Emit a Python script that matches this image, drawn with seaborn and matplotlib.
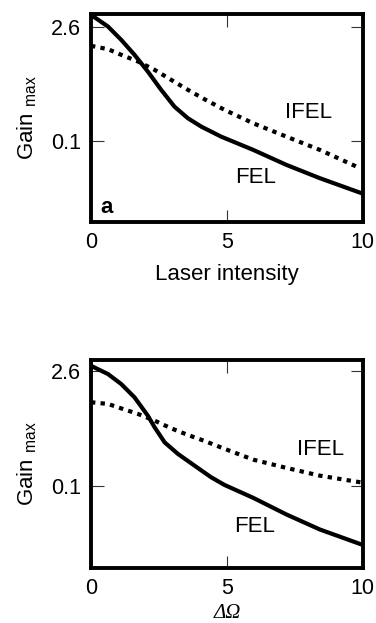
import numpy as np
import pandas as pd
import matplotlib
matplotlib.use("Agg")
import matplotlib.pyplot as plt
import seaborn as sns

# ---- data ----
x_top_fel = [0, 0.625, 1.11, 1.6, 2.09, 2.58, 3.07, 3.56, 4.06, 4.79, 5.97, 7.19, 8.42, 9.95, 10]
y_top_fel = [3.63, 2.60, 1.78, 1.16, 0.719, 0.427, 0.264, 0.190, 0.149, 0.112, 0.0767, 0.050, 0.0342, 0.0223, 0.0220]
x_top_ifel = [0, 0.63, 1.11, 1.73, 2.34, 2.95, 3.56, 4.17, 4.91, 5.97, 7.19, 8.42, 9.71, 9.85]
y_top_ifel = [1.50, 1.36, 1.16, 0.957, 0.755, 0.567, 0.427, 0.327, 0.241, 0.164, 0.112, 0.0767, 0.0486, 0.046]

x_bot_fel = [0, 0.625, 1.11, 1.6, 2.09, 2.34, 2.71, 3.2, 3.81, 4.42, 4.91, 5.97, 7.19, 8.42, 9.95, 10]
y_bot_fel = [2.99, 2.37, 1.79, 1.23, 0.733, 0.528, 0.345, 0.249, 0.179, 0.129, 0.104, 0.0722, 0.0452, 0.0296, 0.0194, 0.0191]
x_bot_ifel = [0, 0.625, 1.11, 1.73, 2.34, 2.95, 3.56, 4.17, 4.91, 5.97, 7.19, 8.42, 9.84, 10]
y_bot_ifel = [1.07, 1.02, 0.900, 0.769, 0.637, 0.513, 0.426, 0.360, 0.288, 0.212, 0.168, 0.135, 0.113, 0.111]

x_ticks = [0, 5, 10]
x_tick_labels = ["0", "5", "10"]
y_ticks = [0.1, 2.6]
y_tick_labels = ["0.1", "2.6"]

sns.set_style("ticks")
plt.rcParams['font.family'] = ['Liberation Sans', 'DejaVu Sans']
plt.rcParams['mathtext.fontset'] = 'custom'
plt.rcParams['mathtext.rm'] = 'Liberation Sans'
plt.rcParams['mathtext.it'] = 'Liberation Sans:italic'
for k in ['text.color', 'axes.labelcolor', 'xtick.color', 'ytick.color',
          'xtick.labelcolor', 'ytick.labelcolor', 'axes.edgecolor']:
    plt.rcParams[k] = 'black'

fig = plt.figure(figsize=(3.76, 6.23), dpi=100)
ax1 = fig.add_axes([0.242, 0.6437, 0.723, 0.334])
ax2 = fig.add_axes([0.242, 0.0883, 0.723, 0.334])

panels = [
    (ax1, x_top_fel, y_top_fel, x_top_ifel, y_top_ifel, (0.0098, 3.73)),
    (ax2, x_bot_fel, y_bot_fel, x_bot_ifel, y_bot_ifel, (0.0100, 3.53)),
]

for ax, xf, yf, xi, yi, yl in panels:
    df_f = pd.DataFrame({"x": xf, "y": yf})
    df_i = pd.DataFrame({"x": xi, "y": yi})
    sns.lineplot(data=df_f, x="x", y="y", ax=ax, color="black", linewidth=3.0,
                 solid_capstyle="butt", solid_joinstyle="round")
    sns.lineplot(data=df_i, x="x", y="y", ax=ax, color="black", linewidth=3.0,
                 linestyle=(0, (1.05, 1.25)), dash_capstyle="butt")
    ax.set_yscale("log")
    ax.set_xlim(0, 10)
    ax.set_ylim(*yl)
    ax.set_xticks(x_ticks)
    ax.set_xticklabels(x_tick_labels)
    ax.set_yticks(y_ticks)
    ax.set_yticklabels(y_tick_labels)
    ax.minorticks_off()
    ax.tick_params(direction="in", length=9, width=0.8, top=True, right=True,
                   labelsize=15.5, pad=7, colors="#333333", labelcolor="black")
    for s in ax.spines.values():
        s.set_linewidth(2.8)
        s.set_color("black")
    ax.set_ylabel("Gain ${}_{\\mathrm{max}}$", fontsize=16, color="black")
    ax.yaxis.set_label_coords(-0.19, 0.5)

ax1.set_xlabel("Laser intensity", fontsize=16, color="black")
ax1.xaxis.set_label_coords(0.5, -0.2)
ax2.set_xlabel("ΔΩ", fontsize=15, family="Liberation Serif", style="italic", color="black")
ax2.xaxis.set_label_coords(0.5, -0.172)

ax1.text(8.01, 0.190, "IFEL", fontsize=16, ha="center", va="baseline", color="black")
ax1.text(6.06, 0.0296, "FEL", fontsize=16, ha="center", va="baseline", color="black")
ax1.text(0.59, 0.0126, "a", fontsize=16, fontweight="bold", ha="center", va="baseline", color="black")
ax2.text(8.45, 0.244, "IFEL", fontsize=16, ha="center", va="baseline", color="black")
ax2.text(6.0, 0.0274, "FEL", fontsize=16, ha="center", va="baseline", color="black")

fig.savefig("out.png", dpi=100)
